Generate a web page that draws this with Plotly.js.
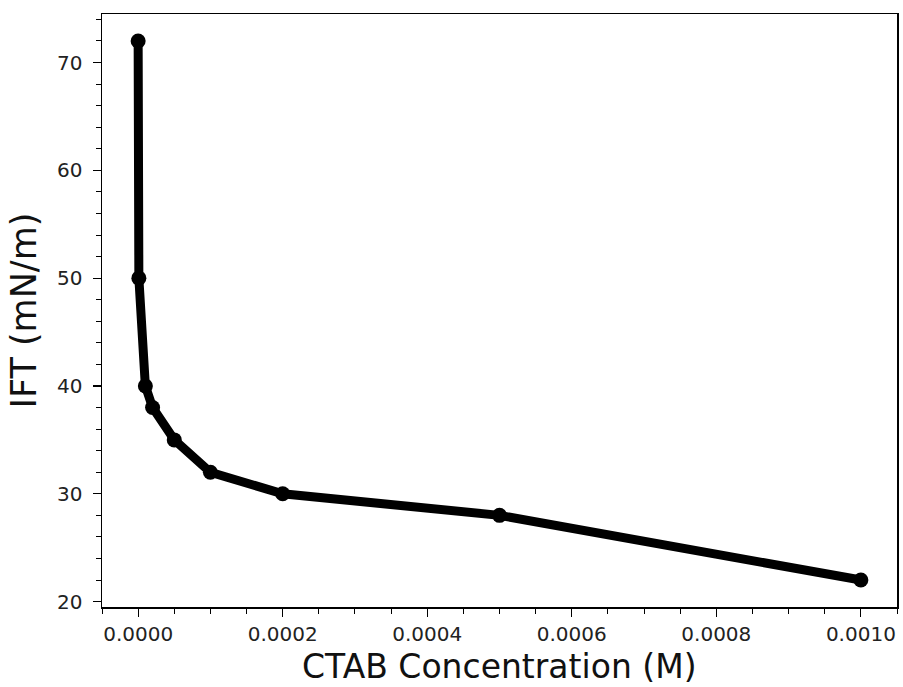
<!DOCTYPE html>
<html>
<head>
<meta charset="utf-8">
<script src="https://cdn.plot.ly/plotly-3.0.1.min.js"></script>
<style>html,body{margin:0;padding:0;background:#fff;}</style>
</head>
<body>
<div id="chart" style="width:903px;height:687px;"></div>
<script>
const concentration = [0, 0.000001, 0.00001, 0.00002, 0.00005, 0.0001, 0.0002, 0.0005, 0.001];
const ift = [72, 50, 40, 38, 35, 32, 30, 28, 22];
const xTickVals = [0, 0.0002, 0.0004, 0.0006, 0.0008, 0.001];
const xTickText = ['0.0000', '0.0002', '0.0004', '0.0006', '0.0008', '0.0010'];
const yTickVals = [20, 30, 40, 50, 60, 70];
const xTitle = 'CTAB Concentration (M)';
const yTitle = 'IFT (mN/m)';

const font = 'DejaVu Sans, sans-serif';
const trace = {
  x: concentration, y: ift, type: 'scatter', mode: 'lines+markers',
  line: {color: '#000', width: 9},
  marker: {color: '#000', size: 15},
  hoverinfo: 'skip'
};
const axisCommon = {
  showline: true, mirror: true, linecolor: '#000', linewidth: 1.5,
  ticks: 'outside', ticklen: 8, tickwidth: 1.2, tickcolor: '#000',
  showgrid: false, zeroline: false,
  tickfont: {family: font, size: 20, color: '#222'},
};
const layout = {
  width: 903, height: 687,
  margin: {l: 102, r: 6, t: 14, b: 80},
  paper_bgcolor: '#fff', plot_bgcolor: '#fff',
  showlegend: false,
  xaxis: Object.assign({}, axisCommon, {
    range: [-0.00005, 0.00105],
    tickvals: xTickVals, ticktext: xTickText,
    minor: {dtick: 0.00005, ticklen: 5, tickwidth: 1, tickcolor: '#000', ticks: 'outside'},
    ticklabelstandoff: 0
  }),
  yaxis: Object.assign({}, axisCommon, {
    range: [19.5, 74.5],
    tickvals: yTickVals,
    minor: {dtick: 2, ticklen: 5, tickwidth: 1, tickcolor: '#000', ticks: 'outside'},
    ticklabelstandoff: 6,
    title: {text: yTitle, font: {family: font, size: 35, color: '#111'}, standoff: 10}
  }),
  annotations: [{
    text: xTitle, xref: 'paper', yref: 'paper', x: 0.5, y: -0.1003,
    xanchor: 'center', yanchor: 'middle', showarrow: false, borderpad: 0,
    font: {family: font, size: 33, color: '#111'}
  }]
};
Plotly.newPlot('chart', [trace], layout, {displayModeBar: false, staticPlot: true});
</script>
</body>
</html>
